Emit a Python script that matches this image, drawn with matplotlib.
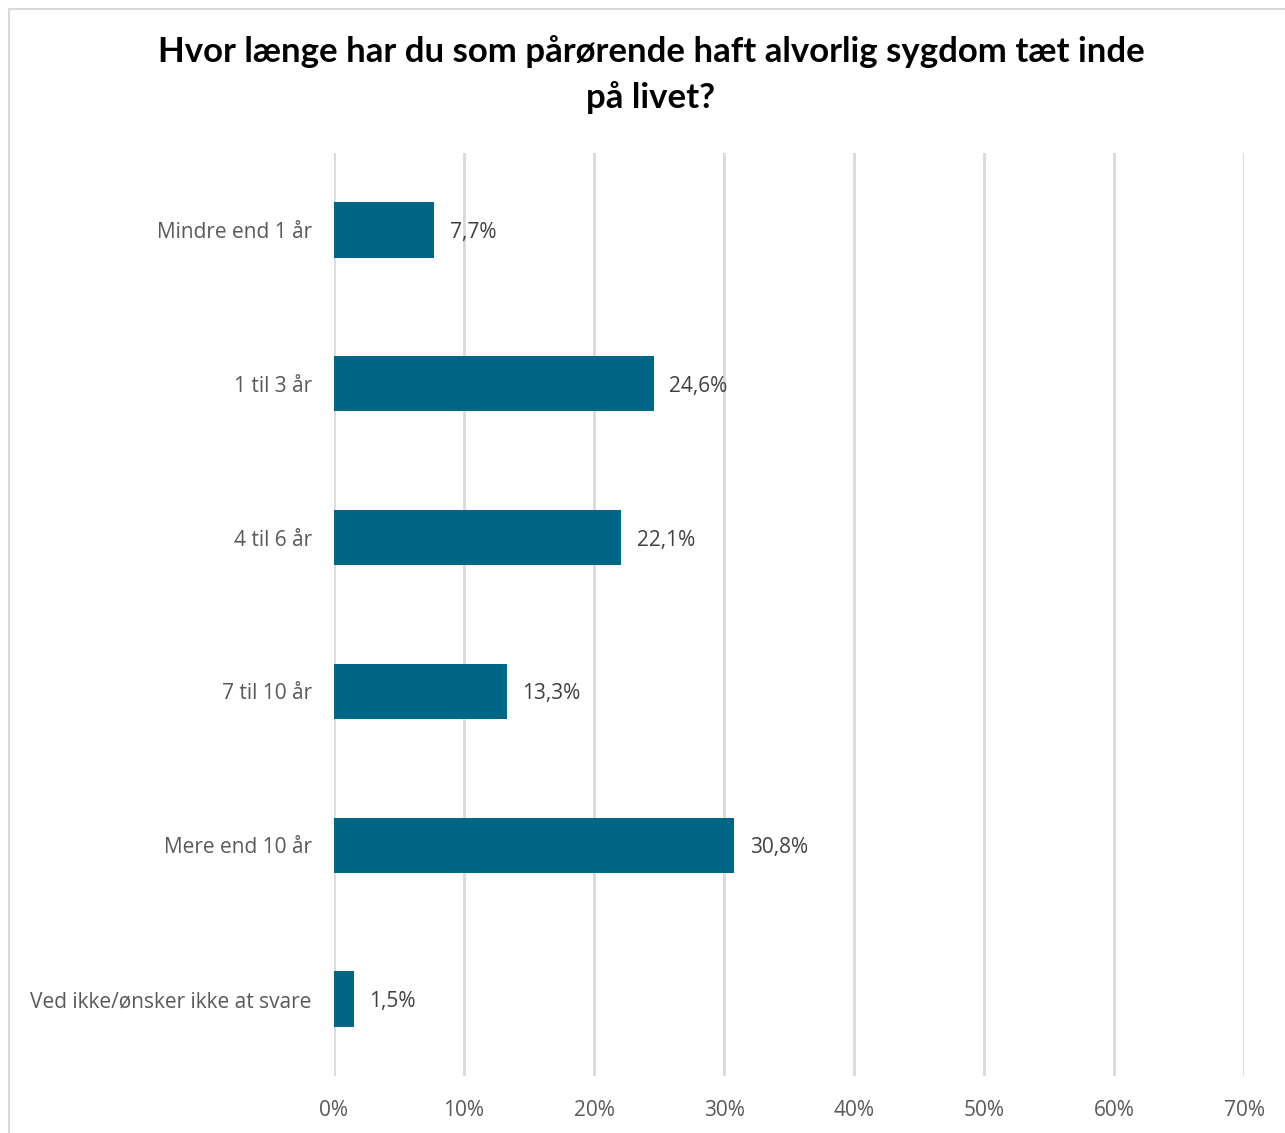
import matplotlib.pyplot as plt
from matplotlib.patches import Rectangle
import numpy as np

categories = ["Mindre end 1 år", "1 til 3 år", "4 til 6 år", "7 til 10 år",
              "Mere end 10 år", "Ved ikke/ønsker ikke at svare"]
values = [7.7, 24.6, 22.1, 13.3, 30.8, 1.5]
xticks = [0, 10, 20, 30, 40, 50, 60, 70]

plt.rcParams['font.family'] = ['Open Sans', 'DejaVu Sans']

fig = plt.figure(figsize=(12.85, 11.33), dpi=100)
ax = fig.add_axes([334/1285, 1-1076/1133, 910/1285, 923/1133])

# chart border
fig.patches.append(Rectangle((9/1285, -0.01), 1.0, 1-9/1133+0.01, transform=fig.transFigure,
                             fill=False, edgecolor="#d9d9d9", linewidth=1.5))

y = np.arange(len(categories))
ax.barh(y, values, height=0.36, color="#006685", zorder=3)
for yi, v in zip(y, values):
    ax.text(v + 1.2, yi, f"{v:.1f}%".replace(".", ","), va="center_baseline", ha="left",
            fontsize=15, color="#404040")

ax.set_ylim(len(categories) - 0.5, -0.5)
ax.set_xlim(0, 70)
ax.set_yticks(y)
ax.set_yticklabels(categories, fontsize=15, color="#595959")
ax.set_xticks(xticks)
ax.set_xticklabels([f"{t}%" for t in xticks], fontsize=15, color="#595959")
ax.tick_params(length=0)
ax.tick_params(axis="y", pad=16)
ax.tick_params(axis="x", pad=17)
ax.grid(axis="x", color="#d9d9d9", linewidth=2, zorder=0)
for s in ax.spines.values():
    s.set_visible(False)

fig.text(651/1285, 1-52/1133, "Hvor længe har du som pårørende haft alvorlig sygdom tæt inde",
         ha="center", va="center", fontsize=25, fontweight="bold", family=["Lato", "DejaVu Sans"])
fig.text(651/1285, 1-98/1133, "på livet?",
         ha="center", va="center", fontsize=25, fontweight="bold", family=["Lato", "DejaVu Sans"])

fig.savefig("out.png", dpi=100)
